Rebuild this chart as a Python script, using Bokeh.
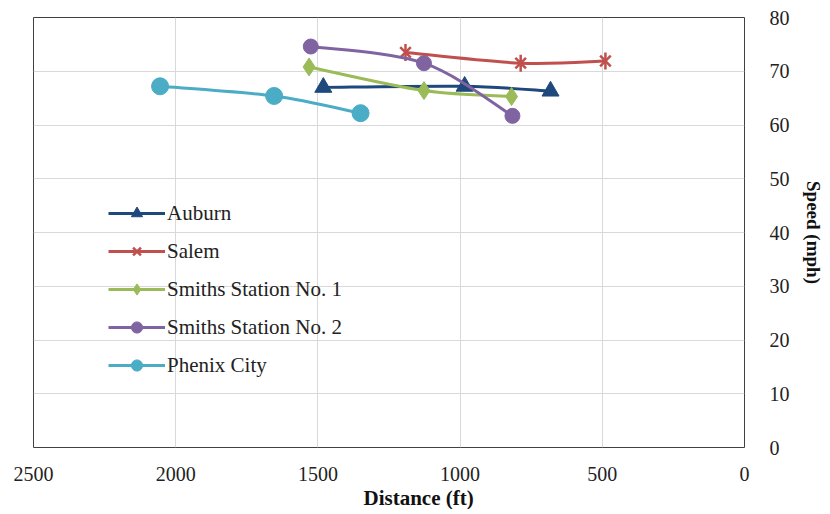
from bokeh.plotting import figure
from bokeh.models import Range1d, SingleIntervalTicker, Legend, LegendItem, Title
from bokeh.embed import file_html
from bokeh.resources import INLINE

# ---- data (distance in ft, speed in mph) ----
auburn_d = [1481, 984, 682]
auburn_v = [67.0, 67.2, 66.3]
salem_d = [1192, 787, 489]
salem_v = [73.5, 71.5, 71.9]
smiths1_d = [1531, 1127, 819]
smiths1_v = [70.8, 66.4, 65.3]
smiths2_d = [1525, 1127, 816]
smiths2_v = [74.6, 71.5, 61.7]
phenix_d = [2055, 1654, 1350]
phenix_v = [67.2, 65.4, 62.2]

names = ["Auburn", "Salem", "Smiths Station No. 1", "Smiths Station No. 2", "Phenix City"]
colors = ["#1F497D", "#C0504D", "#9BBB59", "#8064A2", "#4BACC6"]
markers = ["triangle", "star6", "diamond", "circle", "circle"]
sizes = [17, 15, 18, 15, 17]
series = [(auburn_d, auburn_v), (salem_d, salem_v), (smiths1_d, smiths1_v),
          (smiths2_d, smiths2_v), (phenix_d, phenix_v)]

FONT = "Liberation Serif"

p = figure(output_backend="svg", toolbar_location=None,
           frame_width=711, frame_height=430,
           min_border_left=33, min_border_top=17, min_border_right=0, min_border_bottom=0,
           x_range=Range1d(2500, 0), y_range=Range1d(0, 80),
           y_axis_location="right", background_fill_color="white")

p.outline_line_color = "#404040"
p.outline_line_width = 1

for ax in (p.xaxis[0], p.yaxis[0]):
    ax.axis_line_color = None
    ax.major_tick_line_color = None
    ax.minor_tick_line_color = None
    ax.major_tick_out = 0
    ax.major_tick_in = 0
    ax.major_label_text_font = FONT
    ax.major_label_text_font_size = "20px"
    ax.major_label_text_color = "#222222"
    ax.axis_label_text_font = FONT
    ax.axis_label_text_font_style = "bold"
    ax.axis_label_text_font_size = "19px"
    ax.axis_label_text_color = "#111111"

p.xaxis[0].ticker = SingleIntervalTicker(interval=500)
p.yaxis[0].ticker = SingleIntervalTicker(interval=10)
p.yaxis[0].axis_label = "Speed (mph)"
p.xaxis[0].major_label_standoff = 15
p.yaxis[0].major_label_standoff = 21
p.yaxis[0].axis_label_standoff = 10

xtitle = Title(text="Distance (ft)", align="left", offset=330,
               text_font=FONT, text_font_style="bold", text_font_size="21px",
               text_color="#111111", standoff=0)
p.add_layout(xtitle, "below")

p.xgrid.grid_line_color = "#D9D9D9"
p.ygrid.grid_line_color = "#D9D9D9"
p.xgrid.ticker = p.xaxis[0].ticker
p.ygrid.ticker = p.yaxis[0].ticker


def smooth(xs, ys):
    """Catmull-Rom style bezier segments through the data points."""
    n = len(xs)
    mx, my = [], []
    for i in range(n):
        a = max(i - 1, 0)
        b = min(i + 1, n - 1)
        mx.append((xs[b] - xs[a]) / 2.0)
        my.append((ys[b] - ys[a]) / 2.0)
    x0, y0, x1, y1, cx0, cy0, cx1, cy1 = [], [], [], [], [], [], [], []
    for i in range(n - 1):
        x0.append(xs[i]); y0.append(ys[i])
        x1.append(xs[i + 1]); y1.append(ys[i + 1])
        cx0.append(xs[i] + mx[i] / 3.0); cy0.append(ys[i] + my[i] / 3.0)
        cx1.append(xs[i + 1] - mx[i + 1] / 3.0); cy1.append(ys[i + 1] - my[i + 1] / 3.0)
    return dict(x0=x0, y0=y0, x1=x1, y1=y1, cx0=cx0, cy0=cy0, cx1=cx1, cy1=cy1)


items = []
for name, col, mk, sz, (xs, ys) in zip(names, colors, markers, sizes, series):
    seg = smooth(xs, ys)
    lr = p.bezier(x0=seg["x0"], y0=seg["y0"], x1=seg["x1"], y1=seg["y1"],
                  cx0=seg["cx0"], cy0=seg["cy0"], cx1=seg["cx1"], cy1=seg["cy1"],
                  line_color=col, line_width=3)
    rends = [lr]
    if mk == "star6":
        rends.append(p.scatter(xs, ys, marker="x", size=sz, line_color=col, line_width=2.5))
        rends.append(p.scatter(xs, ys, marker="dash", angle=1.5708, size=sz + 2,
                               line_color=col, line_width=2.5))
    else:
        rends.append(p.scatter(xs, ys, marker=mk, size=sz, fill_color=col, line_color=col))
    items.append(LegendItem(label=name, renderers=rends))

legend = Legend(items=items, location=(75, 68), orientation="vertical",
                background_fill_alpha=0, border_line_color=None,
                padding=0, margin=0, spacing=10,
                glyph_width=57, glyph_height=28, label_standoff=2,
                label_text_font=FONT, label_text_font_size="21px",
                label_text_color="#222222")
p.add_layout(legend, "center")

open("out.html", "w").write(file_html(p, INLINE))
